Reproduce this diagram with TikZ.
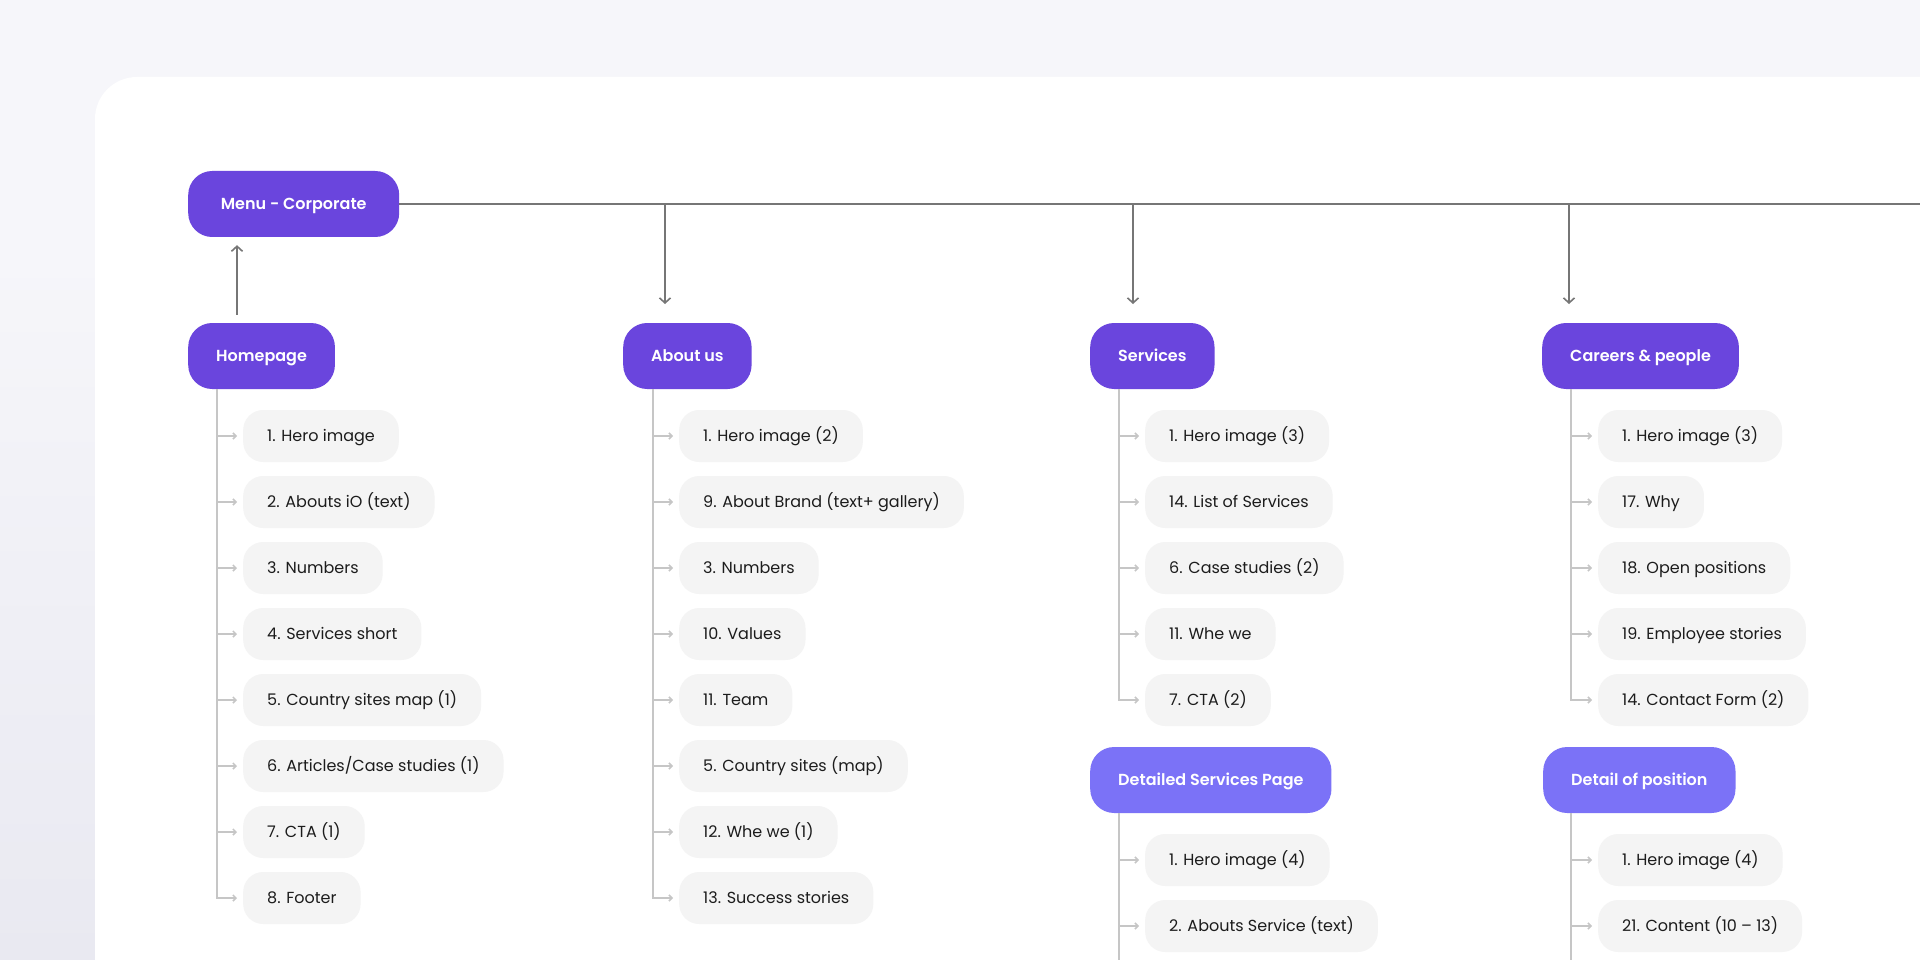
\documentclass[tikz,border=0pt]{standalone}
\usepackage{fontspec}
\setmainfont{Poppins}
\newfontfamily\headfont{Poppins SemiBold}
\usetikzlibrary{arrows.meta,positioning,calc}

\definecolor{bgpage}{HTML}{F6F6FA}
\definecolor{bgshade}{HTML}{E9E9F1}
\definecolor{headpurple}{HTML}{6A45DD}
\definecolor{subpurple}{HTML}{7B72F7}
\definecolor{itemfill}{HTML}{F4F4F4}
\definecolor{linkgray}{HTML}{767676}
\definecolor{treegray}{HTML}{C6C6C6}
\definecolor{textdark}{HTML}{1C1C1C}

\begin{document}
\begin{tikzpicture}[x=1pt, y=-1pt,
    head/.style={fill=headpurple, text=white, rounded corners=24pt, minimum height=66pt, inner xsep=28pt, text height=11.2pt, text depth=0pt, anchor=west, font=\headfont\fontsize{16}{19}\selectfont},
    subhead/.style={head, fill=subpurple},
    item/.style={fill=itemfill, text=textdark, rounded corners=20pt, minimum height=52pt, inner xsep=24pt, text height=11.2pt, text depth=0pt, anchor=west, font=\fontsize{16}{19}\selectfont},
    link/.style={draw=linkgray, line width=1.6pt},
    arr/.style={link, -{Straight Barb[length=5pt, width=11pt]}},
    trunk/.style={draw=treegray, line width=1.5pt},
    branch/.style={trunk, -{Straight Barb[length=3pt, width=6pt]}}
]
    % Page and card
    \useasboundingbox (0,0) rectangle (1920,960);
    \clip (0,0) rectangle (1920,960);
    \fill[bgpage] (0,0) rectangle (1920,960);
    \shade[top color=bgpage, bottom color=bgshade] (0,250) rectangle (95,960);
    \fill[white, rounded corners=42pt] (95,77) rectangle (2000,1050);

    % Menu
    \node[head, minimum width=211pt] (menu) at (188,204) {Menu - Corporate};

    % Top-level pages
    \node[head] (hp) at (188,356) {Homepage};
    \node[head] (ab) at (623,356) {About us};
    \node[head] (sv) at (1090,356) {Services};
    \node[head] (cp) at (1542,356) {Careers \& people};

    % Sub pages
    \node[subhead] (ds) at (1090,780) {Detailed Services Page};
    \node[subhead] (dp) at (1543,780) {Detail of position};

    % Menu links
    \coordinate (edge) at (1930,204);
    \coordinate (abin) at (665,304);
    \coordinate (svin) at (1133,304);
    \coordinate (cpin) at (1569,304);
    \draw[link] (menu.east) -- (edge);
    \draw[arr] ([xshift=49pt, yshift=8pt]hp.north west) -- ([xshift=49pt, yshift=-8pt]menu.south west);
    \draw[arr] (abin |- menu.east) -- (abin);
    \draw[arr] (svin |- menu.east) -- (svin);
    \draw[arr] (cpin |- menu.east) -- (cpin);

    % Homepage sections
    \node[item] (hp1) at (243,436) {1. Hero image};
    \node[item] (hp2) at (243,502) {2. Abouts iO (text)};
    \node[item] (hp3) at (243,568) {3. Numbers};
    \node[item] (hp4) at (243,634) {4. Services short};
    \node[item] (hp5) at (243,700) {5. Country sites map (1)};
    \node[item] (hp6) at (243,766) {6. Articles/Case studies (1)};
    \node[item] (hp7) at (243,832) {7. CTA (1)};
    \node[item] (hp8) at (243,898) {8. Footer};

    % About us sections
    \node[item] (ab1) at (679,436) {1. Hero image (2)};
    \node[item] (ab2) at (679,502) {9. About Brand (text+ gallery)};
    \node[item] (ab3) at (679,568) {3. Numbers};
    \node[item] (ab4) at (679,634) {10. Values};
    \node[item] (ab5) at (679,700) {11. Team};
    \node[item] (ab6) at (679,766) {5. Country sites (map)};
    \node[item] (ab7) at (679,832) {12. Whe we (1)};
    \node[item] (ab8) at (679,898) {13. Success stories};

    % Services sections
    \node[item] (sv1) at (1145,436) {1. Hero image (3)};
    \node[item] (sv2) at (1145,502) {14. List of Services};
    \node[item] (sv3) at (1145,568) {6. Case studies (2)};
    \node[item] (sv4) at (1145,634) {11. Whe we};
    \node[item] (sv5) at (1145,700) {7. CTA (2)};

    \node[item] (ds1) at (1145,860) {1. Hero image (4)};
    \node[item] (ds2) at (1145,926) {2. Abouts Service (text)};

    % Careers sections
    \node[item] (cp1) at (1598,436) {1. Hero image (3)};
    \node[item] (cp2) at (1598,502) {17. Why};
    \node[item] (cp3) at (1598,568) {18. Open positions};
    \node[item] (cp4) at (1598,634) {19. Employee stories};
    \node[item] (cp5) at (1598,700) {14. Contact Form (2)};

    \node[item] (dp1) at (1598,860) {1. Hero image (4)};
    \node[item] (dp2) at (1598,926) {21. Content (10 -- 13)};

    % Trees
    \coordinate (hpt) at ([xshift=29pt]hp.south west);
    \coordinate (abt) at ([xshift=30pt]ab.south west);
    \coordinate (svt) at ([xshift=29pt]sv.south west);
    \coordinate (cpt) at ([xshift=29pt]cp.south west);
    \coordinate (dst) at ([xshift=29pt]ds.south west);
    \coordinate (dpt) at ([xshift=28pt]dp.south west);
    \coordinate (bottom) at (0,1000);

    \draw[branch] (hpt) |- ([xshift=-6pt]hp8.west);
    \foreach \i in {1,...,7}
        \draw[branch] (hpt |- hp\i.west) -- ([xshift=-6pt]hp\i.west);

    \draw[branch] (abt) |- ([xshift=-6pt]ab8.west);
    \foreach \i in {1,...,7}
        \draw[branch] (abt |- ab\i.west) -- ([xshift=-6pt]ab\i.west);

    \draw[branch] (svt) |- ([xshift=-6pt]sv5.west);
    \foreach \i in {1,...,4}
        \draw[branch] (svt |- sv\i.west) -- ([xshift=-6pt]sv\i.west);

    \draw[branch] (cpt) |- ([xshift=-6pt]cp5.west);
    \foreach \i in {1,...,4}
        \draw[branch] (cpt |- cp\i.west) -- ([xshift=-6pt]cp\i.west);

    \draw[trunk] (dst) -- (dst |- bottom);
    \draw[trunk] (dpt) -- (dpt |- bottom);
    \foreach \i in {1,2} {
        \draw[branch] (dst |- ds\i.west) -- ([xshift=-6pt]ds\i.west);
        \draw[branch] (dpt |- dp\i.west) -- ([xshift=-6pt]dp\i.west);
    }
\end{tikzpicture}
\end{document}
